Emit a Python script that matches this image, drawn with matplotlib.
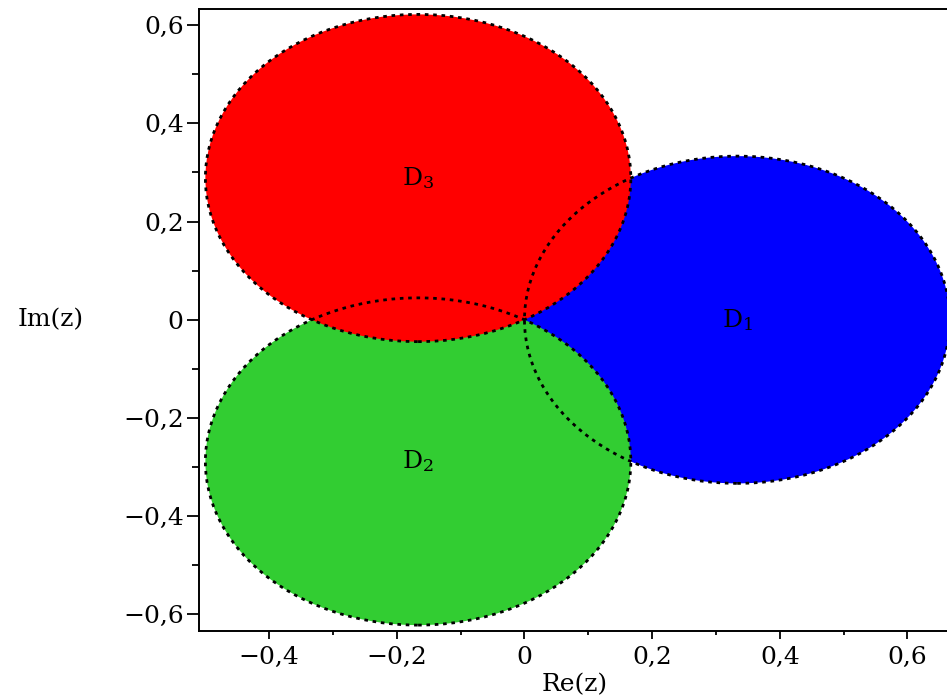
import matplotlib.pyplot as plt
from matplotlib.patches import Circle
from matplotlib.ticker import MultipleLocator, FixedLocator, FuncFormatter

# disks D1, D2, D3 (radius 1/3, all touching the origin)
names = ["D_1", "D_2", "D_3"]
center_x = [0.3333, -0.1667, -0.1667]
center_y = [0.0, -0.2887, 0.2887]
radius = [0.3333, 0.3333, 0.3333]
colors = ["#0000ff", "#32cd32", "#ff0000"]

x_minor = [-0.3, -0.1, 0.1, 0.3, 0.5]
y_minor = [-0.5, -0.3, -0.1, 0.1, 0.3, 0.5]

plt.rcParams['font.family'] = 'DejaVu Serif'
plt.rcParams['mathtext.fontset'] = 'dejavuserif'

fig = plt.figure(figsize=(9.47, 7.0), dpi=100)
ax = fig.add_axes([199 / 947, 69 / 700, (950 - 199) / 947, (631 - 9) / 700])

for i in range(len(names)):
    ax.add_patch(Circle((center_x[i], center_y[i]), radius[i],
                        facecolor=colors[i], edgecolor='none', zorder=1 + i))
for i in range(len(names)):
    ax.add_patch(Circle((center_x[i], center_y[i]), radius[i],
                        facecolor='none', edgecolor='black', lw=2.0,
                        linestyle=(0, (1.3, 1.7)), zorder=5))
    ax.text(center_x[i], center_y[i], r'$\mathrm{D}_%s$' % names[i][-1],
            ha='center', va='center', fontsize=18, zorder=6)

ax.set_xlim(-0.51, 0.6667)
ax.set_ylim(-0.634, 0.633)

def fmt(v, pos):
    if abs(v) < 1e-9:
        return "0"
    s = f"{abs(v):.1f}".replace('.', ',')
    return ("\u2212" + s) if v < 0 else s

ax.xaxis.set_major_locator(MultipleLocator(0.2))
ax.xaxis.set_minor_locator(FixedLocator(x_minor))
ax.yaxis.set_major_locator(MultipleLocator(0.2))
ax.yaxis.set_minor_locator(FixedLocator(y_minor))
ax.xaxis.set_major_formatter(FuncFormatter(fmt))
ax.yaxis.set_major_formatter(FuncFormatter(fmt))

ax.tick_params(axis='x', which='major', length=6, width=1.3, pad=5, labelsize=18)
ax.tick_params(axis='x', which='minor', length=3, width=1.3)
ax.tick_params(axis='y', which='major', length=9, width=1.3, pad=2, labelsize=18)
ax.tick_params(axis='y', which='minor', length=5, width=1.3)

for side in ['left', 'bottom', 'top']:
    ax.spines[side].set_linewidth(1.4)
ax.spines['right'].set_visible(False)

ax.set_xlabel("Re(z)", fontsize=18)
ax.xaxis.set_label_coords(0.5, -0.087)
ax.xaxis.label.set_va('center')
ax.set_ylabel("Im(z)", fontsize=18, rotation=0)
ax.yaxis.set_label_coords(-0.197, 0.5)
ax.yaxis.label.set_ha('center')
ax.yaxis.label.set_va('center')

fig.savefig("out.png", dpi=100)
